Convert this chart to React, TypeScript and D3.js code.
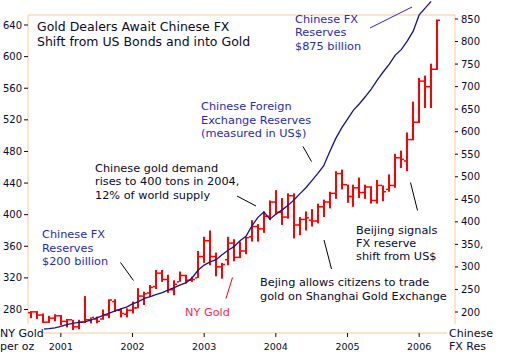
import React from 'react';
import * as d3 from 'd3';

// Monthly NY gold bars, Aug 2000 .. Apr 2006
const firstMonth = new Date(2000, 7, 1);
const lastMonthExclusive = new Date(2006, 4, 1);
const goldHigh = [278,278,275,272,274,273,268,267,267,297,270,271,280,293,293,281.5,281.5,290,307,302.5,311,330,330,324,317,328,324,321.5,354,372,380,352,339,372,369,366,372,393,388,404,418,431,421,427,427,397,404,407,414,419,429,455,457,438,438,447,438,436,444,437,451,477,481,504,543,573,576,591,647];
const goldLow = [269,268,263,263,265,260,257.5,254,255,263,262.5,262.5,267,269,277,270,270,275,281.5,285.7,296,306,315,301,298,315,313,315,320,339,336,322,319,336,341,345,350,366,366,377,393,400,387,395,370,374,380,385,389,397,408,420,432,415,410,421,420,414,414,417,429,434,459,455,494,516,535,535,583];
const goldOpen = [276,277,273,264,269,272,265,267,258,264,267,268,268,273,290,279,274,279,282,297,301,309,326,318,305,315,323,317,320,347,367,347,334,343,364,346,354,372,385,382,398,416,403,397,424,387,394,393,392,410,416,427,452,438,423,434,428,435,418,437,432,437,472,468,495,517,569,562,584];
const goldClose = [277,273,264,269,272,265,267,258,264,267,270,265,273,292,279,275,279,282,297,300,308,326,318,305,312,323,317,318,347,367,347,334,337,364,346,354,371,385,382,398,416,403,397,424,387,394,396,392,410,416,427,452,438,423,434,428,435,418,437,429,437,472,470,495,517,569,562,584,646];

// Chinese FX reserves (US$ bn), Oct 2000 .. Mar 2006
const fxStartIndex = 2;
const fxReserves = [162,163,165,168,172,175,177,178,182,187,192,197,202,207,211,218,223,230,234,239,243,249,254,260,265,276,293,304,311,316,327,337,345,358,368,391,410,422,406,417,426,436,448,462,475,491,507,524,555,584,608,628,648,662,678,695,715,733,750,770,782,801,823,859,874,889];

const yearLabels = ['2001', '2002', '2003', '2004', '2005', '2006'];
const goldTicks = [280, 320, 360, 400, 440, 480, 520, 560, 600, 640];
const fxTicks = [200, 250, 300, 350, 400, 450, 500, 550, 600, 650, 700, 750, 800, 850];
const fxTickLabels = ['200', '250', '300', '350,', '400', '450', '500', '550', '600', '650', '700', '750', '800', '850'];

const titleLines = ['Gold Dealers Await Chinese FX', 'Shift from US Bonds and into Gold'];

const W = 520, H = 360;
const L = 28, R = 455, T = 15, B = 333;
const FRAME = '#fbc995';
const INK = '#0a0a2a';
const BLUE = '#2a2ab8';
const FONT = 'DejaVu Sans, Verdana, sans-serif';

export default function App() {
  const months = d3.timeMonth.range(firstMonth, lastMonthExclusive);
  const x = d3.scaleLinear().domain([-0.5, 71]).range([L, R]);
  const yG = d3.scaleLinear().domain([280, 640]).range([309.5, 25]);
  const yF = d3.scaleLinear().domain([200, 850]).range([312, 19]);

  const fxLine = d3.line<number>()
    .x((_, i) => x(i + fxStartIndex))
    .y(d => yF(d));

  const yearIdx = yearLabels.map(y => months.findIndex(m => m.getFullYear() === +y && m.getMonth() === 0));

  const annotSize = 11.3;
  const Block = ({ x0, y0, lines, color, size = annotSize, lh = 13.5 }: any) => (
    <text x={x0} y={y0} fill={color} fontSize={size} fontFamily={FONT}>
      {lines.map((t: string, i: number) => (
        <tspan key={i} x={x0} y={y0 + i * lh}>{t}</tspan>
      ))}
    </text>
  );

  return (
    <svg width={W} height={H} style={{ position: 'absolute', left: 0, top: 0, background: '#fff' }}>
      {/* frame */}
      <line x1={L} x2={R} y1={T} y2={T} stroke={FRAME} strokeWidth={1} />
      <line x1={L} x2={R} y1={B} y2={B} stroke={FRAME} strokeWidth={1} />
      <line x1={L} x2={L} y1={T} y2={B} stroke={FRAME} strokeWidth={1} />
      <line x1={R} x2={R} y1={T} y2={B} stroke={FRAME} strokeWidth={1} />

      {/* left axis */}
      {goldTicks.map(v => (
        <g key={'g' + v}>
          <line x1={L - 4} x2={L} y1={yG(v)} y2={yG(v)} stroke={INK} />
          <text x={L - 6} y={yG(v) + 3.5} textAnchor="end" fontSize={10} fontFamily={FONT} fill={INK}>{v}</text>
        </g>
      ))}
      {/* right axis */}
      {fxTicks.map((v, i) => (
        <g key={'f' + v}>
          <line x1={R} x2={R + 3} y1={yF(v)} y2={yF(v)} stroke={INK} />
          <text x={R + 6} y={yF(v) + 3.5} fontSize={10} fontFamily={FONT} fill={INK}>{fxTickLabels[i]}</text>
        </g>
      ))}
      {/* x axis */}
      {yearLabels.map((lab, i) => (
        <g key={lab}>
          <line x1={x(yearIdx[i])} x2={x(yearIdx[i])} y1={B} y2={B + 4} stroke={INK} />
          <text x={x(yearIdx[i])} y={350} textAnchor="middle" fontSize={9.5} fontFamily={FONT} fill={INK}>{lab}</text>
        </g>
      ))}

      {/* gold OHLC bars */}
      {months.map((m, i) => {
        const cx = Math.round(x(i));
        return (
          <g key={'b' + i} fill="#ff0000">
            <rect x={cx - 1} width={2} y={yG(goldHigh[i])} height={yG(goldLow[i]) - yG(goldHigh[i])} />
            <rect x={cx - 3} width={2} y={yG(goldOpen[i]) - 0.75} height={1.5} />
            <rect x={cx + 1} width={2} y={yG(goldClose[i]) - 0.75} height={1.5} />
          </g>
        );
      })}

      {/* FX reserves line */}
      <path d={fxLine(fxReserves) || ''} fill="none" stroke="#14148c" strokeWidth={1.3} />

      {/* axis titles with white background */}
      <rect x={0} y={324} width={44} height={30} fill="#fff" />
      <rect x={447} y={324} width={73} height={30} fill="#fff" />
      <text x={0} y={337} fontSize={11} fontFamily={FONT} fill={INK}>NY Gold</text>
      <text x={0} y={349.5} fontSize={11} fontFamily={FONT} fill={INK}>per oz</text>
      <text x={449} y={337} fontSize={11} fontFamily={FONT} fill={INK}>Chinese</text>
      <text x={449} y={349.5} fontSize={11} fontFamily={FONT} fill={INK}>FX Res</text>

      {/* title */}
      <Block x0={37} y0={31} lines={titleLines} color={INK} size={12.5} lh={14.5} />

      {/* annotations */}
      <Block x0={295} y0={22.5} lines={['Chinese FX', 'Reserves', '$875 billion']} color={BLUE} />
      <line x1={370} y1={28} x2={412} y2={7} stroke={BLUE} strokeWidth={1} />

      <Block x0={201} y0={110} lines={['Chinese Foreign', 'Exchange Reserves', '(measured in US$)']} color={BLUE} />
      <line x1={303} y1={146.5} x2={311.5} y2={161.5} stroke="#000" strokeWidth={1} />

      <Block x0={95} y0={171.5} lines={['Chinese gold demand', 'rises to 400 tons in 2004,', '12% of world supply']} color={INK} />
      <line x1={237} y1={196} x2={256} y2={206} stroke="#000" strokeWidth={1} />

      <Block x0={42} y0={238} lines={['Chinese FX', 'Reserves', '$200 billion']} color={BLUE} />
      <line x1={120.5} y1={262.5} x2={133.5} y2={280.5} stroke="#000" strokeWidth={1} />

      <text x={185} y={316} fontSize={annotSize} fontFamily={FONT} fill="#ff2a55">NY Gold</text>
      <line x1={226} y1={298.5} x2={232.5} y2={277.5} stroke="#ff0000" strokeWidth={1} />

      <Block x0={260} y0={286} lines={['Bejing allows citizens to trade', 'gold on Shanghai Gold Exchange']} color={INK} lh={14} />
      <line x1={324} y1={240} x2={331.5} y2={269} stroke="#000" strokeWidth={1} />

      <Block x0={356} y0={233.5} lines={['Beijing signals', 'FX reserve', 'shift from US$']} color={INK} lh={13.2} />
      <line x1={410.5} y1={182.5} x2={417.5} y2={210.5} stroke="#000" strokeWidth={1} />
    </svg>
  );
}
